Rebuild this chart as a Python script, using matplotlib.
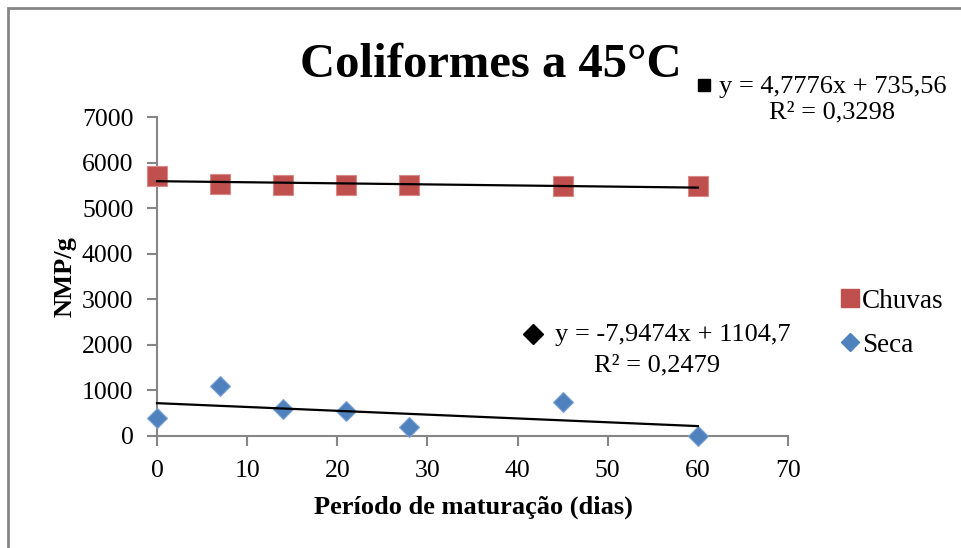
import numpy as np
import matplotlib
matplotlib.use("Agg")
import matplotlib.pyplot as plt
from matplotlib.patches import Rectangle
from matplotlib.lines import Line2D

plt.rcParams['font.family'] = ['Liberation Serif', 'DejaVu Serif']

dias = [0, 7, 14, 21, 28, 45, 60]
chuvas = [5705, 5530, 5508, 5505, 5505, 5486, 5490]
seca = [395, 1097, 592, 549, 197, 746, 0]

title = "Coliformes a 45°C"
xlabel = "Período de maturação (dias)"
ylabel = "NMP/g"
eq_chuvas = ["y = 4,7776x + 735,56", "R² = 0,3298"]
eq_seca = ["y = -7,9474x + 1104,7", "R² = 0,2479"]
xticks = [0, 10, 20, 30, 40, 50, 60, 70]
yticks = [0, 1000, 2000, 3000, 4000, 5000, 6000, 7000]

red = '#C0504D'
blue = '#4F81BD'
gray = '#868686'

fig = plt.figure(figsize=(9.61, 5.48), dpi=100)
W, H = 961, 548
ax = fig.add_axes([157 / W, 1 - 436 / H, (788 - 157) / W, (436 - 117) / H])

ax.plot(dias, chuvas, linestyle='none', marker='s', markersize=14.5,
        color=red, markeredgecolor='#d98a88', markeredgewidth=0.8, zorder=3)
ax.plot(dias, seca, linestyle='none', marker='D', markersize=10.5,
        color=blue, markeredgecolor='#7ea3d4', markeredgewidth=0.8, zorder=3)

xs = np.array([min(dias), max(dias)], dtype=float)
for ys in (chuvas, seca):
    m, b = np.polyfit(dias, ys, 1)
    ax.plot(xs, m * xs + b, color='black', linewidth=1.6, zorder=4)

ax.set_xlim(0, 70)
ax.set_ylim(0, 7000)
ax.set_xticks(xticks)
ax.set_yticks(yticks)
for s in ['top', 'right']:
    ax.spines[s].set_visible(False)
for s in ['left', 'bottom']:
    ax.spines[s].set_color(gray)
    ax.spines[s].set_linewidth(1.5)
ax.tick_params(axis='both', colors=gray, length=7, width=1.5, labelsize=18.5,
               labelcolor='black')
ax.tick_params(axis='x', pad=10)
ax.tick_params(axis='y', pad=10)
for l in ax.lines:
    l.set_clip_on(False)

ax.set_xlabel(xlabel, fontsize=19, fontweight='bold')
ax.set_ylabel(ylabel, fontsize=19, fontweight='bold')
ax.xaxis.set_label_coords((473 - 157) / 631, (436 - 496) / 319)
ax.yaxis.set_label_coords((76 - 157) / 631, (436 - 277) / 319)

fig.text(491 / W, 1 - 77 / H, title, fontsize=35, fontweight='bold',
         ha='center', va='baseline')

fig.text(833 / W, 1 - 87 / H, eq_chuvas[0], fontsize=19, ha='center', va='center')
fig.text(832 / W, 1 - 112 / H, eq_chuvas[1], fontsize=19, ha='center', va='center')
fig.text(673 / W, 1 - 335 / H, eq_seca[0], fontsize=19, ha='center', va='center')
fig.text(657 / W, 1 - 365 / H, eq_seca[1], fontsize=19, ha='center', va='center')

fig.add_artist(Line2D([704 / W], [1 - 85 / H], marker='s', markersize=9,
                      color='black', transform=fig.transFigure))
fig.add_artist(Line2D([533 / W], [1 - 334 / H], marker='D', markersize=10,
                      color='black', transform=fig.transFigure))

# legend
fig.add_artist(Line2D([850 / W], [1 - 298 / H], marker='s', markersize=13,
                      color=red, transform=fig.transFigure))
fig.add_artist(Line2D([850 / W], [1 - 342 / H], marker='D', markersize=8.7,
                      color=blue, transform=fig.transFigure))
fig.text(862 / W, 1 - 301 / H, "Chuvas", fontsize=19.5, ha='left', va='center')
fig.text(862 / W, 1 - 345 / H, "Seca", fontsize=19.5, ha='left', va='center')

# outer border (only top and left visible)
fig.add_artist(Rectangle((8 / W, -0.1), 1.2, 1 - 8 / H + 0.1, fill=False,
                         edgecolor=gray, linewidth=2, transform=fig.transFigure))

fig.savefig('out.png', dpi=100)
